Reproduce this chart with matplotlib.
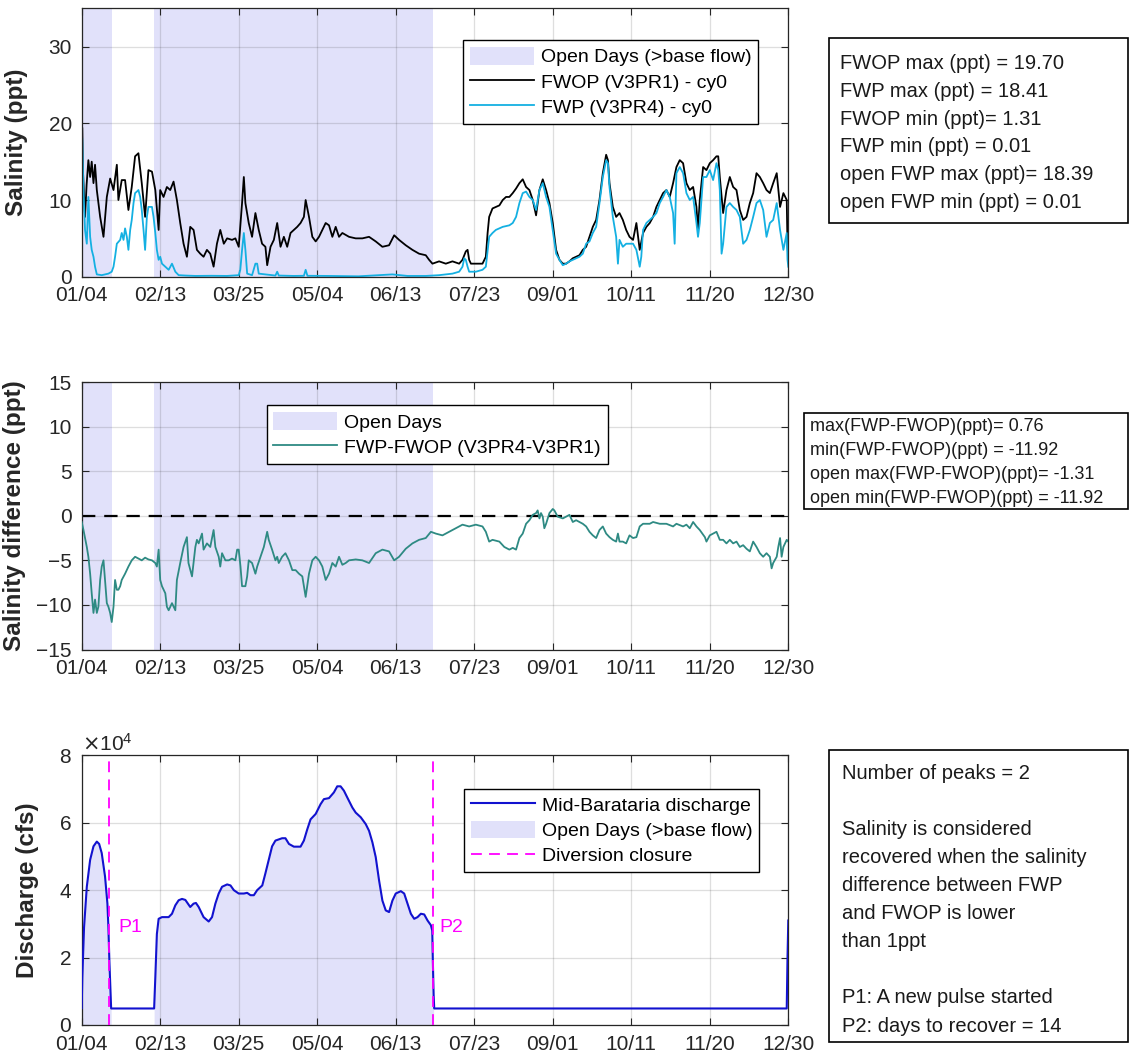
import matplotlib.pyplot as plt
from matplotlib.patches import Patch, Rectangle
from matplotlib.lines import Line2D
from matplotlib.ticker import ScalarFormatter

plt.rcParams['font.family'] = ['Liberation Sans', 'DejaVu Sans']

# x axis: day of year, ticks every 40 days
tick_days = [4, 44, 84, 124, 164, 204, 244, 284, 324, 364]
tick_labels = ['01/04', '02/13', '03/25', '05/04', '06/13',
               '07/23', '09/01', '10/11', '11/20', '12/30']

# open days (> base flow) and diversion closures
open_spans = [(4, 19.3), (40.6, 183.0)]
closure_days = [18.1, 183.2]
closure_names = ['P1', 'P2']
closure_label_day = [22.5, 186.4]
closure_label_val = [2.88e4, 2.88e4]

# salinity without project (FWOP, V3PR1)
fwop_day = [4.0, 4.3, 4.6, 5.7, 6.5, 7.4, 8.3, 9.1, 10.0, 10.8, 11.7, 13.4, 15.1, 16.8, 18.5,
            20.2, 21.9, 22.7, 24.4, 26.1, 27.8, 29.5, 31.2, 32.9, 34.6, 36.3, 38.0, 39.8,
            41.5, 43.2, 44.0, 45.7, 47.4, 49.1, 50.8, 52.5, 54.2, 55.9, 57.6, 59.3, 61.0,
            62.7, 64.4, 66.1, 67.8, 69.5, 71.2, 72.9, 74.6, 76.4, 78.1, 80.6, 82.3, 84.0,
            85.7, 86.6, 87.4, 89.1, 90.8, 92.5, 94.2, 95.9, 97.6, 98.5, 100.2, 101.9, 103.6,
            105.3, 107.0, 108.7, 110.4, 112.1, 113.8, 115.5, 117.2, 118.1, 119.8, 121.5,
            123.2, 124.9, 126.6, 128.3, 130.0, 131.7, 133.4, 135.1, 136.8, 140.2, 143.6,
            147.0, 150.4, 153.8, 157.2, 160.6, 163.2, 165.7, 169.1, 172.5, 175.9, 179.3,
            181.0, 182.7, 186.1, 189.5, 192.9, 196.3, 198.0, 199.7, 200.6, 201.4, 202.3,
            204.8, 208.2, 209.9, 210.8, 211.6, 213.3, 215.0, 216.8, 218.5, 220.2, 221.9,
            223.6, 225.3, 227.0, 228.7, 230.4, 232.1, 233.8, 235.5, 237.2, 238.9, 240.6,
            242.3, 244.0, 245.7, 247.4, 249.1, 250.8, 252.5, 254.2, 255.9, 257.6, 259.3,
            261.0, 262.7, 264.4, 266.1, 267.8, 269.5, 271.2, 272.1, 272.9, 274.6, 276.3,
            278.0, 279.7, 281.4, 283.1, 284.9, 286.6, 288.3, 290.0, 291.7, 293.4, 295.1,
            296.8, 298.5, 300.2, 301.9, 303.6, 305.3, 307.0, 308.7, 310.4, 312.1, 313.8,
            315.5, 317.2, 318.0, 318.9, 320.6, 322.3, 324.0, 325.7, 327.4, 328.3, 329.1,
            330.8, 332.5, 334.2, 335.9, 337.6, 339.3, 341.0, 342.7, 344.4, 346.1, 347.8,
            349.5, 351.2, 352.9, 354.6, 356.3, 358.1, 359.8, 361.5, 363.2, 363.6, 364.0]
fwop_ppt = [19.7, 19.4, 14.0, 7.8, 12.0, 15.2, 13.0, 15.0, 12.2, 14.6, 11.3, 7.8, 5.2, 10.4, 12.8,
            11.3, 14.6, 10.0, 12.6, 12.6, 8.7, 11.7, 15.7, 16.1, 12.2, 7.8, 13.9, 13.7,
            11.3, 6.1, 11.3, 10.4, 11.7, 11.3, 12.4, 10.0, 7.0, 4.3, 2.6, 6.5, 6.1,
            3.5, 3.0, 2.6, 3.5, 3.0, 1.31, 4.3, 6.1, 4.3, 5.0, 4.8, 5.0, 3.9,
            9.6, 13.0, 9.6, 7.0, 5.2, 8.3, 6.1, 4.3, 3.9, 1.5, 3.9, 4.8, 7.0,
            3.9, 5.2, 3.9, 5.7, 6.1, 6.5, 7.0, 7.8, 10.0, 7.8, 5.2,
            4.6, 5.2, 6.1, 7.0, 6.7, 5.2, 6.5, 5.2, 5.7, 5.2, 5.0,
            5.0, 5.2, 4.6, 3.9, 4.1, 5.4, 4.8, 4.1, 3.5, 3.0, 2.8,
            2.2, 1.7, 2.0, 1.7, 2.0, 1.7, 2.2, 3.3, 3.5, 2.2, 1.7,
            1.7, 1.7, 2.6, 5.7, 7.8, 8.9, 9.1, 9.3, 10.0, 10.4, 10.4,
            10.9, 11.5, 12.2, 12.7, 11.7, 11.3, 10.0, 8.0, 11.3, 12.7, 11.3,
            9.6, 7.0, 3.5, 2.2, 1.7, 1.7, 2.0, 2.4, 2.6, 2.8, 3.5,
            3.9, 5.2, 6.5, 7.4, 10.0, 13.5, 15.9, 15.2, 12.2, 9.1, 7.8,
            8.3, 7.4, 6.1, 5.2, 4.8, 7.0, 3.5, 5.7, 6.5, 7.0, 7.8,
            9.1, 10.0, 10.9, 11.3, 10.4, 12.2, 14.3, 15.2, 14.8, 12.2, 11.3,
            11.7, 9.1, 6.1, 10.0, 14.3, 13.9, 14.8, 15.2, 15.7, 15.7, 13.0,
            8.3, 11.3, 13.0, 11.7, 11.3, 8.7, 7.4, 7.8, 9.6, 10.9, 13.5,
            13.0, 12.2, 11.3, 10.9, 12.2, 13.5, 9.1, 10.9, 10.0, 3.9, 2.6]

# salinity with project (FWP, V3PR4)
fwp_day = [4.0, 4.3, 4.9, 5.7, 6.6, 7.4, 8.3, 9.1, 10.0, 10.8, 11.7, 14.2, 17.6, 19.3, 20.2,
           21.0, 21.9, 23.6, 24.4, 25.3, 26.1, 27.0, 27.8, 28.7, 29.5, 30.4, 31.2, 32.1,
           32.9, 33.8, 34.6, 35.5, 36.3, 37.2, 38.0, 39.8, 40.6, 41.5, 42.3, 43.2, 44.0,
           44.9, 46.6, 48.3, 50.0, 51.7, 53.4, 56.8, 62.0, 70.0, 78.0, 84.0, 84.8, 85.7,
           86.6, 87.4, 88.3, 90.8, 92.5, 93.4, 94.2, 102.7, 103.6, 104.4, 112.0, 117.2,
           118.1, 119.0, 130.0, 145.0, 162.3, 170.0, 179.3, 186.1, 192.9, 196.3, 198.0,
           198.9, 199.7, 200.6, 201.4, 204.8, 208.2, 209.9, 211.6, 213.3, 215.0, 216.8,
           218.5, 221.9, 223.6, 225.3, 227.0, 228.7, 230.4, 232.1, 233.8, 235.5, 237.2,
           238.9, 240.6, 242.3, 244.0, 245.7, 247.4, 249.1, 250.8, 252.5, 254.2, 255.9,
           257.6, 259.3, 261.0, 262.7, 264.4, 266.1, 267.8, 269.5, 271.2, 272.1, 272.9,
           274.6, 276.3, 277.2, 278.0, 279.7, 281.4, 283.1, 284.9, 286.6, 288.3, 289.1,
           290.0, 291.7, 293.4, 295.1, 296.8, 298.5, 300.2, 301.9, 303.6, 305.3, 306.1,
           307.0, 308.7, 310.4, 312.1, 313.8, 315.5, 317.2, 318.0, 318.9, 320.6, 322.3,
           324.0, 325.7, 327.4, 328.3, 329.1, 330.0, 330.8, 332.5, 334.2, 335.9, 337.6,
           339.3, 341.0, 342.7, 344.4, 346.1, 347.8, 349.5, 351.2, 352.9, 354.6, 356.3,
           358.1, 359.8, 361.5, 363.2, 363.6, 364.0]
fwp_ppt = [18.41, 18.0, 11.3, 6.1, 4.3, 10.4, 5.2, 3.5, 2.6, 1.3, 0.3, 0.2, 0.4, 0.65, 1.3,
           2.6, 4.3, 4.8, 5.7, 4.8, 6.3, 5.2, 3.5, 6.1, 7.4, 9.6, 10.9, 11.1,
           11.3, 10.4, 8.7, 6.1, 3.5, 7.8, 9.1, 9.1, 7.8, 5.7, 3.5, 2.2, 2.6,
           1.7, 1.3, 0.9, 1.7, 0.65, 0.2, 0.15, 0.1, 0.12, 0.1, 0.2, 0.9, 3.5,
           5.7, 3.5, 0.4, 0.2, 1.7, 1.7, 0.4, 0.15, 0.65, 0.15, 0.1, 0.12,
           0.9, 0.12, 0.1, 0.05, 0.3, 0.1, 0.1, 0.2, 0.4, 0.65, 1.3,
           2.4, 2.2, 1.3, 0.65, 0.65, 0.9, 1.3, 5.2, 5.7, 6.1, 6.3,
           6.5, 6.7, 7.0, 7.8, 9.6, 10.9, 11.1, 10.4, 10.0, 8.7, 11.3,
           12.2, 10.4, 9.1, 6.1, 3.0, 2.2, 1.5, 1.7, 2.0, 2.2, 2.4,
           2.6, 3.0, 4.3, 4.6, 5.7, 6.5, 9.6, 13.0, 15.2, 14.8, 11.7,
           7.8, 5.2, 1.7, 4.8, 3.9, 4.3, 4.3, 4.3, 3.5, 1.3, 2.6,
           6.1, 7.0, 7.4, 7.8, 8.3, 9.6, 10.4, 11.3, 10.4, 8.3, 4.3,
           13.5, 14.3, 13.5, 10.9, 10.0, 10.4, 7.0, 5.2, 7.0, 13.0, 13.0,
           13.9, 12.6, 14.8, 13.9, 11.3, 3.0, 4.3, 9.1, 9.6, 9.1, 8.7,
           7.8, 4.3, 4.8, 6.1, 7.8, 9.6, 10.0, 8.7, 5.2, 7.0, 7.4,
           9.6, 6.1, 3.5, 5.7, 2.2, 1.3]

# salinity difference FWP - FWOP
diff_day = [4.0, 4.9, 6.6, 7.4, 8.3, 9.1, 10.0, 10.8, 11.7, 12.5, 13.4, 14.2, 15.1, 15.9,
            16.8, 17.6, 18.5, 19.3, 20.2, 21.0, 21.9, 22.7, 23.6, 24.4, 26.1, 27.8, 29.5,
            31.2, 32.9, 34.6, 36.3, 38.0, 39.8, 41.5, 42.3, 43.2, 44.0, 44.9, 46.6, 47.4,
            48.3, 50.0, 51.7, 52.5, 54.2, 55.9, 57.6, 58.4, 60.2, 61.9, 62.7, 63.6, 65.3,
            66.1, 67.8, 69.5, 71.2, 72.1, 73.8, 74.6, 75.5, 77.2, 78.9, 80.6, 82.3, 83.2,
            84.0, 84.9, 85.7, 87.4, 88.3, 89.1, 90.8, 92.5, 93.4, 95.1, 96.8, 98.5, 99.3,
            101.0, 102.7, 103.6, 104.4, 106.1, 107.8, 109.6, 111.3, 113.0, 114.7, 116.4,
            118.1, 119.8, 121.5, 123.2, 124.9, 126.6, 128.3, 130.0, 131.7, 133.4, 135.1,
            136.8, 138.5, 140.2, 143.6, 147.0, 150.4, 153.8, 157.2, 160.6, 163.2, 165.7,
            169.1, 172.5, 175.9, 179.3, 181.9, 184.4, 187.8, 191.2, 194.6, 198.0, 201.4,
            204.8, 208.2, 209.9, 211.6, 213.3, 216.8, 219.3, 221.9, 223.6, 225.3, 227.0,
            228.7, 230.4, 232.1, 233.8, 235.5, 236.3, 237.2, 238.0, 238.9, 239.7, 240.6,
            242.3, 244.0, 244.8, 246.5, 249.1, 250.8, 252.5, 254.2, 255.9, 257.6, 259.3,
            261.0, 262.7, 264.4, 266.1, 267.8, 269.5, 271.2, 272.9, 274.6, 276.3, 277.2,
            278.0, 279.7, 281.4, 283.1, 284.9, 286.6, 288.3, 290.0, 293.4, 295.1, 298.5,
            301.9, 305.3, 307.0, 310.4, 312.1, 313.8, 315.5, 317.2, 318.9, 321.5, 322.3,
            324.0, 325.7, 327.4, 329.1, 330.8, 332.5, 334.2, 335.9, 337.6, 339.3, 341.0,
            342.7, 344.4, 346.1, 347.8, 349.5, 351.2, 352.9, 354.6, 355.5, 356.3, 358.1,
            358.9, 359.8, 360.6, 361.5, 363.2, 364.0]
diff_ppt = [-0.7, -1.6, -3.5, -4.6, -6.5, -8.7, -10.9, -9.4, -10.9, -10.2, -7.2, -5.7, -5.0, -7.2,
            -9.8, -10.2, -10.9, -11.92, -10.2, -7.2, -8.3, -8.3, -7.9, -7.2, -6.5, -5.7, -5.0,
            -4.6, -4.8, -5.0, -4.7, -4.9, -5.0, -5.3, -5.7, -3.8, -7.2, -7.9, -8.7, -10.2,
            -10.6, -9.8, -10.6, -7.2, -5.3, -3.5, -2.4, -5.3, -6.8, -3.5, -2.7, -3.1, -2.0,
            -3.8, -3.1, -3.5, -1.6, -3.5, -4.6, -5.7, -4.2, -5.0, -5.0, -4.8, -5.0, -3.8,
            -3.8, -5.7, -7.9, -7.9, -6.8, -5.0, -5.3, -6.5, -5.7, -4.6, -3.5, -1.8, -2.7,
            -3.8, -5.0, -4.6, -5.3, -4.6, -4.2, -5.0, -6.1, -6.1, -6.5, -6.8,
            -9.1, -6.5, -5.0, -4.6, -5.0, -5.7, -7.2, -6.5, -5.3, -5.7, -4.6,
            -5.5, -5.3, -5.0, -4.9, -5.0, -5.3, -4.2, -3.8, -4.0, -5.0, -4.6,
            -3.7, -3.1, -2.7, -2.5, -1.8, -2.0, -2.2, -1.8, -1.4, -1.0, -1.2,
            -1.0, -1.2, -1.8, -2.9, -2.7, -2.9, -3.5, -3.8, -3.6, -3.8, -2.5,
            -2.0, -0.9, -0.5, 0.1, 0.3, 0.6, -0.3, 0.3, -0.1, -1.4, -0.9,
            0.3, 0.76, 0.6, -0.1, -0.3, -0.1, 0.1, -0.7, -0.5, -0.7, -0.9,
            -1.2, -1.8, -2.2, -2.5, -1.6, -1.2, -2.0, -2.4, -2.7, -2.9, -2.0,
            -2.9, -2.9, -3.1, -2.2, -2.5, -2.4, -1.2, -0.9, -0.9, -0.7, -0.9,
            -0.9, -1.2, -0.9, -1.2, -1.0, -1.4, -0.7, -1.2, -1.6, -2.4, -2.9,
            -2.2, -2.0, -1.8, -2.7, -2.7, -3.1, -2.7, -3.1, -2.9, -3.5, -3.3,
            -3.7, -4.0, -2.9, -3.5, -4.2, -4.6, -4.2, -4.6, -5.9, -5.3, -4.6,
            -3.5, -2.5, -4.6, -3.5, -2.7, -2.9]

# Mid-Barataria discharge (cfs)
q_day = [4.0, 4.3, 5.2, 6.6, 8.3, 10.0, 11.7, 12.9, 14.2, 15.9, 17.1, 17.6, 18.1, 19.0,
         40.9, 41.5, 42.3, 43.2, 44.9, 48.3, 50.0, 51.7, 53.4, 55.1, 56.8, 59.3, 61.0,
         62.2, 63.6, 66.1, 68.7, 70.4, 72.1, 73.8, 75.5, 78.1, 79.8, 81.5, 84.0, 86.6,
         88.3, 90.0, 91.7, 93.4, 96.0, 97.6, 99.3, 101.0, 102.7, 106.1, 107.8, 109.6,
         112.1, 115.5, 117.2, 118.9, 120.6, 123.2, 125.7, 127.4, 130.0, 132.5, 134.2,
         135.9, 137.6, 139.3, 141.9, 143.6, 146.2, 148.7, 150.4, 152.1, 153.8, 155.5,
         157.2, 158.9, 160.6, 162.3, 164.0, 166.6, 168.3, 170.0, 171.7, 173.4, 175.1,
         176.8, 178.5, 180.2, 181.9, 182.6, 182.9, 183.3, 183.6, 363.2, 363.6, 364.0]
q_cfs = [5000, 14000, 29000, 41000, 49000, 53000, 54400, 53700, 51000, 44000, 36000, 29000, 19000, 4900,
         4900, 14000, 27000, 31500, 32000, 32000, 33000, 35500, 37000, 37400, 37100, 35000, 36000,
         36200, 35000, 32000, 30700, 32000, 36000, 39000, 41000, 41700, 41400, 40000, 39000, 39000,
         39200, 38500, 38500, 40000, 41400, 45000, 49000, 53000, 54700, 55400, 55400, 53700,
         52900, 52900, 54700, 58000, 61000, 62600, 65500, 67000, 67300, 69000, 70800,
         70800, 69500, 67500, 64500, 63000, 61600, 59600, 57600, 54200, 49800, 42900,
         36900, 34000, 33500, 36900, 39000, 39700, 39000, 36000, 33000, 31500, 32000,
         33000, 32800, 31000, 29600, 28000, 19000, 9000, 4900, 4900, 20000, 31000]

shade = '#E1E1FA'
c_fwop = 'black'
c_fwp = '#14B0E2'
c_diff = '#2E8A83'
c_q = '#1212CF'
c_closure = '#FF00FF'
c_axis = '#262626'

W, H = 1130, 1062
fig = plt.figure(figsize=(W / 100, H / 100), dpi=100)


def frac(x0, y0, x1, y1):
    return [x0 / W, 1 - y1 / H, (x1 - x0) / W, (y1 - y0) / H]


ax1 = fig.add_axes(frac(81.7, 8.3, 788.3, 276.7))
ax2 = fig.add_axes(frac(81.7, 382.0, 788.3, 649.5))
ax3 = fig.add_axes(frac(81.7, 755.3, 788.3, 1025.0))


def style(ax, ylim, yticks):
    ax.set_xlim(4, 364)
    ax.set_ylim(*ylim)
    ax.set_xticks(tick_days)
    ax.set_xticklabels(tick_labels)
    ax.set_yticks(yticks)
    ax.set_axisbelow(True)
    ax.grid(True, color=c_axis, alpha=0.15, lw=0.9)
    ax.tick_params(direction='in', length=5, top=True, right=True,
                   labelsize=15, colors=c_axis, width=0.8)
    ax.tick_params(axis='x', pad=7)
    ax.tick_params(axis='y', pad=7)
    for s in ax.spines.values():
        s.set_color(c_axis)
        s.set_linewidth(0.9)


def legend(ax, handles, labels, loc, anchor):
    leg = ax.legend(handles, labels, loc=loc, bbox_to_anchor=anchor, fontsize=14,
                    fancybox=False, framealpha=1, edgecolor='black',
                    handlelength=3.3, handleheight=1.0, handletextpad=0.35,
                    labelspacing=0.3, borderpad=0.35)
    leg.get_frame().set_linewidth(1.0)
    return leg


# --- top: salinity ---
for a, b in open_spans:
    ax1.axvspan(a, b, color=shade, lw=0, zorder=0.2)
ax1.plot(fwop_day, fwop_ppt, color=c_fwop, lw=1.3)
ax1.plot(fwp_day, fwp_ppt, color=c_fwp, lw=1.3)
style(ax1, (0, 35), [0, 10, 20, 30])
ax1.set_ylabel('Salinity (ppt)', fontsize=17.5, fontweight='bold', color=c_axis)
ax1.yaxis.set_label_coords(-0.076, 0.5)
legend(ax1,
       [Patch(color=shade, lw=0), Line2D([], [], color=c_fwop, lw=1.3),
        Line2D([], [], color=c_fwp, lw=1.3)],
       ['Open Days (>base flow)', 'FWOP (V3PR1) - cy0', 'FWP (V3PR4) - cy0'],
       'upper right', (0.971, 0.917))

# --- middle: salinity difference ---
for a, b in open_spans:
    ax2.axvspan(a, b, color=shade, lw=0, zorder=0.2)
ax2.axhline(0, color='black', lw=1.6, ls=(0, (6, 4)), zorder=2)
ax2.plot(diff_day, diff_ppt, color=c_diff, lw=1.3, zorder=3)
style(ax2, (-15, 15), [-15, -10, -5, 0, 5, 10, 15])
ax2.set_ylabel('Salinity difference (ppt)', fontsize=17.5, fontweight='bold', color=c_axis)
ax2.yaxis.set_label_coords(-0.079, 0.5)
legend(ax2,
       [Patch(color=shade, lw=0), Line2D([], [], color=c_diff, lw=1.3)],
       ['Open Days', 'FWP-FWOP (V3PR4-V3PR1)'],
       'upper center', (0.503, 0.949))

# --- bottom: discharge ---
for a, b in open_spans:
    sel = [i for i, d in enumerate(q_day) if a - 0.5 <= d <= b + 0.5]
    ax3.fill_between([q_day[i] for i in sel], 0, [q_cfs[i] for i in sel],
                     color=shade, lw=0, zorder=0.2)
ax3.plot(q_day, q_cfs, color=c_q, lw=1.5, zorder=3)
for d, name, ld, lv in zip(closure_days, closure_names, closure_label_day, closure_label_val):
    ax3.axvline(d, color=c_closure, lw=1.3, ls=(0, (6, 4)), zorder=4)
    ax3.text(ld, lv, name, color=c_closure, fontsize=14, va='center', ha='left')
style(ax3, (0, 80000), [0, 20000, 40000, 60000, 80000])
fmt = ScalarFormatter(useMathText=True)
fmt.set_powerlimits((0, 0))
ax3.yaxis.set_major_formatter(fmt)
ax3.yaxis.get_offset_text().set_fontsize(15)
ax3.yaxis.get_offset_text().set_color(c_axis)
ax3.set_ylabel('Discharge (cfs)', fontsize=17.5, fontweight='bold', color=c_axis)
ax3.yaxis.set_label_coords(-0.060, 0.5)
legend(ax3,
       [Line2D([], [], color=c_q, lw=1.5), Patch(color=shade, lw=0),
        Line2D([], [], color=c_closure, lw=1.3, ls=(0, (6, 4)))],
       ['Mid-Barataria discharge', 'Open Days (>base flow)', 'Diversion closure'],
       'upper right', (0.973, 0.912))

# --- text boxes on the right ---
box1_lines = ['FWOP max (ppt) = 19.70', 'FWP max (ppt) = 18.41', 'FWOP min (ppt)= 1.31',
              'FWP min (ppt) = 0.01', 'open FWP max (ppt)= 18.39', 'open FWP min (ppt) = 0.01']
box2_lines = ['max(FWP-FWOP)(ppt)= 0.76', 'min(FWP-FWOP)(ppt) = -11.92',
              'open max(FWP-FWOP)(ppt)= -1.31', 'open min(FWP-FWOP)(ppt) = -11.92']
box3_lines = ['Number of peaks = 2', '', 'Salinity is considered',
              'recovered when the salinity', 'difference between FWP',
              'and FWOP is lower', 'than 1ppt', '',
              'P1: A new pulse started', 'P2: days to recover = 14']

boxes = [
    (box1_lines, (829, 38.3, 1128, 223), 840, 63.3, 27.9, 14.5),
    (box2_lines, (804, 413.3, 1128, 509.3), 810, 426.7, 23.9, 13),
    (box3_lines, (829, 750, 1128, 1041.7), 841.7, 773.3, 28.08, 14.5),
]
for lines, (x0, y0, x1, y1), tx, ty, dy, fs in boxes:
    fig.patches.append(Rectangle((x0 / W, 1 - y1 / H), (x1 - x0) / W, (y1 - y0) / H,
                                 transform=fig.transFigure, fill=False,
                                 edgecolor='black', lw=1.2))
    for i, line in enumerate(lines):
        fig.text(tx / W, 1 - (ty + i * dy) / H, line, fontsize=fs,
                 va='center', ha='left', color='#1a1a1a')

fig.savefig('out.png', dpi=100)
